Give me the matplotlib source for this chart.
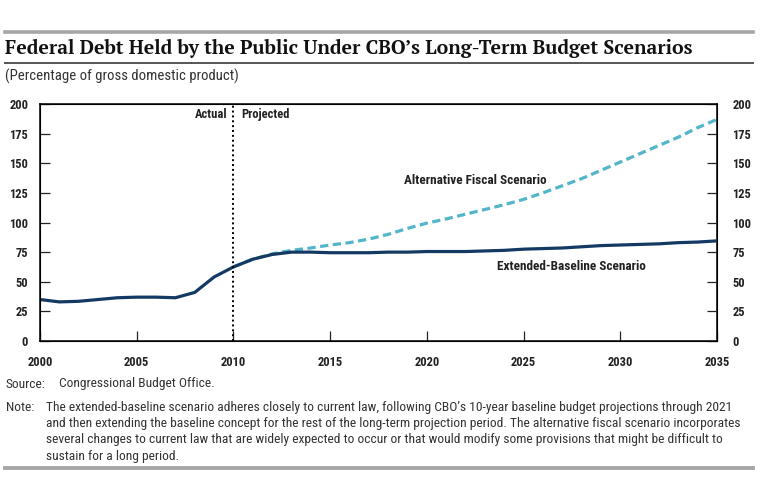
import matplotlib
matplotlib.use("Agg")
import matplotlib.pyplot as plt
from matplotlib.lines import Line2D

years_base = list(range(2000, 2036))
baseline = [35, 33, 33.5, 35, 36.5, 37, 37, 36.5, 41, 54, 62.5, 69, 73, 75, 75, 74.5, 74.5, 74.5,
            75, 75, 75.5, 75.5, 75.5, 76, 76.5, 77.5, 78, 78.5, 79.5, 80.5, 81, 81.5, 82, 83, 83.5, 84.5]
years_alt = list(range(2010, 2036))
alternative = [62.5, 69, 73.5, 76.5, 78.5, 81, 83, 86, 90, 95, 99.5, 103, 107, 111, 115, 119.5,
               125, 131, 137, 144, 151, 158, 165, 172, 180, 187]
xticks = [2000, 2005, 2010, 2015, 2020, 2025, 2030, 2035]
yticks = [0, 25, 50, 75, 100, 125, 150, 175, 200]

SANS = ['Roboto Condensed', 'DejaVu Sans']
SERIF = ['PT Serif', 'DejaVu Serif']
plt.rcParams['font.family'] = SANS

W, H = 760, 484
fig = plt.figure(figsize=(W/100, H/100), dpi=100)
ax = fig.add_axes([40/W, 1-341/H, 677/W, 237/H])

navy = '#143a64'
teal = '#52b5ca'
ax.plot(years_alt, alternative, color=teal, lw=2.3, dashes=(2.6, 1.4), zorder=3)
ax.plot(years_base, baseline, color=navy, lw=2.3, zorder=4)
ax.axvline(2010, color='black', lw=1.4, ls=(0, (1.0, 1.5)), zorder=5)

ax.set_xlim(2000, 2035)
ax.set_ylim(0, 200)
ax.set_xticks(xticks)
ax.set_yticks(yticks)
for s in ax.spines.values():
    s.set_linewidth(1.1)
ax.tick_params(axis='x', direction='in', length=7.5, width=0.9, pad=10.5, labelsize=9, colors='#222222')
ax.tick_params(axis='y', direction='in', length=7.5, width=0.9, pad=8.5, labelsize=9, colors='#222222')
ax2 = ax.twinx()
ax2.set_ylim(0, 200)
ax2.set_yticks(yticks)
ax2.tick_params(axis='y', direction='in', length=7.5, width=0.9, pad=11, labelsize=9, colors='#222222')
for lab in ax.get_xticklabels() + ax.get_yticklabels() + ax2.get_yticklabels():
    lab.set_fontweight('bold')

ax.text(2009.67, 191.5, 'Actual', ha='right', va='center', fontsize=9, fontweight='bold', color='#222222')
ax.text(2010.43, 191.5, 'Projected', ha='left', va='center', fontsize=9, fontweight='bold', color='#222222')
t_alt = ax.text(2022.5, 135.3, 'Alternative Fiscal Scenario', ha='center', va='center', fontsize=9,
                fontweight='bold', color='#222222')
t_ext = ax.text(2027.45, 62.7, 'Extended-Baseline Scenario', ha='center', va='center', fontsize=9,
                fontweight='bold', color='#222222')

# decorations
fig.add_artist(Line2D([5/W, 753/W], [1-31.5/H, 1-31.5/H], color='#a6a6a6', lw=2.6))
fig.add_artist(Line2D([5/W, 753/W], [1-63/H, 1-63/H], color='#555555', lw=1.4))
fig.add_artist(Line2D([5/W, 753/W], [1-467.5/H, 1-467.5/H], color='#a6a6a6', lw=2.8))

title = fig.text(5/W, 1-54/H, 'Federal Debt Held by the Public Under CBO\u2019s Long-Term Budget Scenarios',
                 family=SERIF, fontweight='bold', fontsize=15.5, va='baseline', ha='left', color='#111111')
sub = fig.text(5/W, 1-76.7/H, '(Percentage of gross domestic product)', fontsize=10.5, va='center', ha='left',
               color='#333333')

fs = 9.5
src1 = fig.text(6/W, 1-384/H, 'Source:', fontsize=fs, va='center', color='#333333')
src2 = fig.text(59/W, 1-384/H, 'Congressional Budget Office.', fontsize=fs, va='center', color='#333333')
nt = fig.text(6/W, 1-407.7/H, 'Note:', fontsize=fs, va='center', color='#333333')
note_lines = ["The extended-baseline scenario adheres closely to current law, following CBO\u2019s 10-year baseline budget projections through 2021",
              "and then extending the baseline concept for the rest of the long-term projection period. The alternative fiscal scenario incorporates",
              "several changes to current law that are widely expected to occur or that would modify some provisions that might be difficult to",
              "sustain for a long period."]
note_y = [407.7, 423.5, 439.5, 456.5]
notes = [fig.text(46/W, 1-y/H, ln, fontsize=fs, va='center', color='#333333') for ln, y in zip(note_lines, note_y)]

# fit font sizes to the measured widths of the reference
r = fig.canvas.get_renderer()
def fit(t, target):
    w = t.get_window_extent(r).width
    t.set_fontsize(t.get_fontsize() * target / w)
fit(title, 687)
fit(sub, 235)
fit(notes[1], 696)
for t in notes + [src1, src2, nt]:
    t.set_fontsize(notes[1].get_fontsize())
fit(t_alt, 144)
t_ext.set_fontsize(t_alt.get_fontsize())

fig.savefig('out.png', dpi=100)
